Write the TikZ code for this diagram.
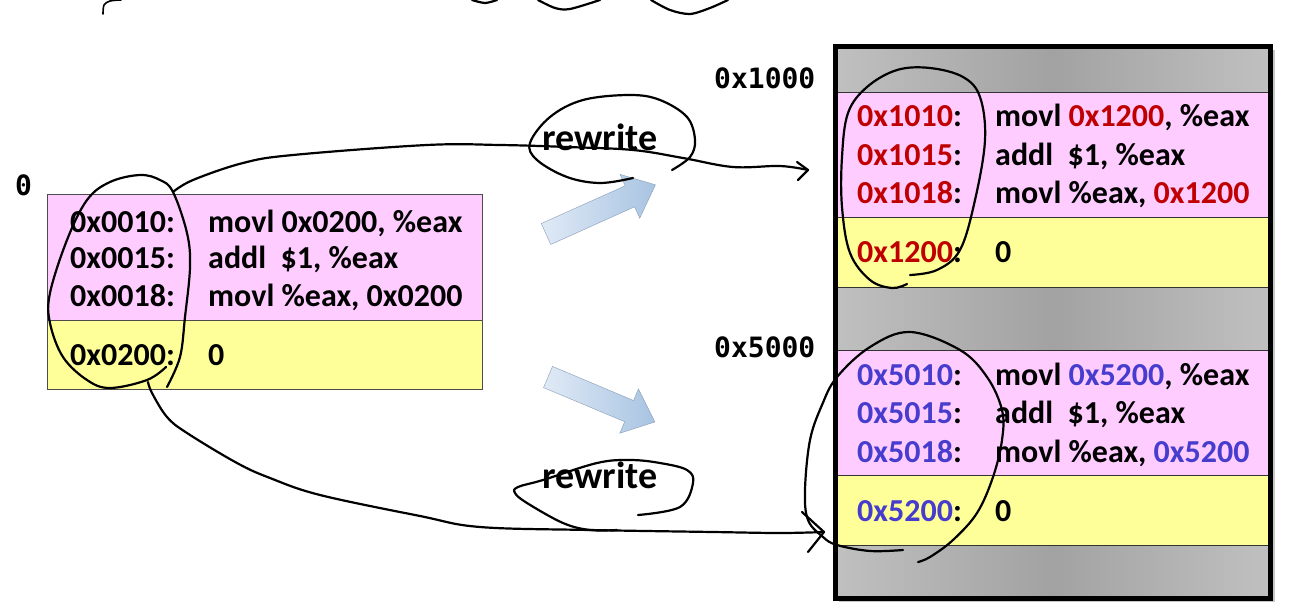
\documentclass[tikz,border=0pt]{standalone}
\usepackage{fontspec}
\setmainfont{Carlito}
\newfontfamily\monoff{DejaVu Sans Mono}
\definecolor{pinkbg}{HTML}{FFCCFF}
\definecolor{yellowbg}{HTML}{FFFF99}
\definecolor{addrred}{HTML}{C00000}
\definecolor{addrblue}{RGB}{70,60,205}
\definecolor{arrowlight}{RGB}{224,234,246}
\definecolor{arrowdark}{RGB}{168,196,226}
\definecolor{grayedge}{RGB}{192,192,192}
\definecolor{graymid}{RGB}{162,162,162}
\tikzset{
  code/.style={anchor=base west, inner sep=0pt, font=\bfseries\fontsize{32}{38}\selectfont},
  lbl/.style={anchor=base west, inner sep=0pt, font=\monoff\bfseries\fontsize{28}{32}\selectfont},
  rw/.style={anchor=base west, inner sep=0pt, font=\bfseries\fontsize{38}{44}\selectfont},
  ink/.style={line width=2.2pt, line cap=round, line join=round, black},
  band/.style={draw=black!80, line width=0.8pt},
  blockarrow/.style={draw=arrowdark!80!black, line width=0.4pt, left color=arrowlight, right color=arrowdark},
}
\newcommand{\R}[1]{\textcolor{addrred}{#1}}
\newcommand{\B}[1]{\textcolor{addrblue}{#1}}
\begin{document}
\begin{tikzpicture}[x=1pt,y=-1pt]
\useasboundingbox (0,0) rectangle (1298,605);

% ---------- left memory box ----------
\fill[pinkbg] (47,194) rectangle (482,320);
\fill[yellowbg] (47,320) rectangle (482,389);
\draw[black!70, line width=0.8pt] (47,194) rectangle (482,389);
\draw[black!70, line width=0.8pt] (47,320) -- (482,320);

\node[lbl] (zero) at (15,195) {0};
\node[code] (la1) at (70,232) {0x0010:};
\node[code] (la2) at (70,268) {0x0015:};
\node[code] (la3) at (70,306) {0x0018:};
\node[code] (la4) at (70,365) {0x0200:};
\node[code] (lc1) at (208,232) {movl 0x0200, \%eax};
\node[code] (lc2) at (208,268) {addl\ \ \$1, \%eax};
\node[code] (lc3) at (208,306) {movl \%eax, 0x0200};
\node[code] (lc4) at (208,365) {0};

% ---------- right memory box ----------
\fill[black!22] (839,50) rectangle (1275,602);
\shade[left color=grayedge, right color=grayedge, middle color=graymid] (835,46) rectangle (1270,598);
\fill[pinkbg] (835,92) rectangle (1270,217);
\fill[yellowbg] (835,217) rectangle (1270,287);
\fill[pinkbg] (835,350) rectangle (1270,475);
\fill[yellowbg] (835,475) rectangle (1270,545);
\foreach \yy in {92,217,287,350,475,545} \draw[band] (835,\yy) -- (1270,\yy);
\draw[black, line width=5pt] (835,46) rectangle (1270,598);

\node[lbl] (l1000) at (714,88) {0x1000};
\node[lbl] (l5000) at (714,357) {0x5000};

\node[code] (ra1) at (857,126) {\R{0x1010}:};
\node[code] (ra2) at (857,165) {\R{0x1015}:};
\node[code] (ra3) at (857,203) {\R{0x1018}:};
\node[code] (ra4) at (857,262) {\R{0x1200}:};
\node[code] (rc1) at (995,126) {movl \R{0x1200}, \%eax};
\node[code] (rc2) at (995,165) {addl\ \ \$1, \%eax};
\node[code] (rc3) at (995,203) {movl \%eax, \R{0x1200}};
\node[code] (rc4) at (995,262) {0};

\node[code] (ba1) at (857,385) {\B{0x5010}:};
\node[code] (ba2) at (857,423) {\B{0x5015}:};
\node[code] (ba3) at (857,462) {\B{0x5018}:};
\node[code] (ba4) at (857,521) {\B{0x5200}:};
\node[code] (bc1) at (995,385) {movl \B{0x5200}, \%eax};
\node[code] (bc2) at (995,423) {addl\ \ \$1, \%eax};
\node[code] (bc3) at (995,462) {movl \%eax, \B{0x5200}};
\node[code] (bc4) at (995,521) {0};

% ---------- blue block arrows ----------
\begin{scope}[shift={(546,234)}, rotate=24.2]
  \path[blockarrow] (0,-11.5) -- (92,-11.5) -- (92,-24) -- (120,0) -- (92,24) -- (92,11.5) -- (0,11.5) -- cycle;
\end{scope}
\begin{scope}[shift={(548,377)}, rotate=-22.8]
  \path[blockarrow] (0,-11.5) -- (88,-11.5) -- (88,-24) -- (116,0) -- (88,24) -- (88,11.5) -- (0,11.5) -- cycle;
\end{scope}

% ---------- rewrite labels ----------
\node[rw] (rwtop) at (542,150) {rewrite};
\node[rw] (rwbot) at (542,488) {rewrite};

% ---------- hand-drawn annotations ----------
\coordinate (topstart) at (173,192);
\coordinate (topend) at (808,170);
\coordinate (botstart) at (148,382);
\coordinate (botend) at (824,532);

% scribble remnants at the top edge
\draw[ink, line width=1.6pt] plot[smooth] coordinates {(103,14) (104,5) (110,1) (121,0)};
\draw[ink] plot[smooth] coordinates {(472,0) (485,3) (497,0)};
\draw[ink] plot[smooth] coordinates {(538,0) (555,8) (570,9) (600,0)};
\draw[ink] plot[smooth] coordinates {(651,0) (670,10) (690,14) (710,8) (728,0)};

% loop around left addresses
\draw[ink] plot[smooth, tension=0.6] coordinates {(167,387) (180,357) (185,317) (190,267) (187,233) (173,192) (160,180) (140,175) (110,182) (87,200) (67,240) (50,293) (50,323) (63,357) (87,380) (110,388) (147,380) (166,367)};

% upper curved arrow
\draw[ink] plot[smooth, tension=0.6] coordinates {(topstart) (193,180) (243,163) (293,155) (427,145) (500,145) (567,147) (633,150) (683,158) (733,167) (780,166) (topend)};
\draw[ink] (797,162) -- (topend) -- (798,180);

% lower curved arrow
\draw[ink] plot[smooth, tension=0.6] coordinates {(botstart) (152,393) (167,417) (187,433) (237,463) (270,478) (320,495) (420,516) (480,527) (590,530) (713,532) (780,533) (botend)};
\draw[ink] (802,512) -- (botend) -- (808,552);

% loop around top rewrite
\draw[ink] plot[smooth, tension=0.6] coordinates {(672,170) (690,157) (695,140) (687,117) (660,100) (630,95) (583,100) (550,117) (530,143) (537,160) (567,177) (600,183) (633,178)};

% loop around bottom rewrite
\draw[ink] plot[smooth, tension=0.6] coordinates {(638,515) (680,507) (693,483) (687,470) (660,463) (630,460) (597,463) (543,480) (518,487) (515,493) (527,503) (563,523) (590,530) (617,530)};

% loop around right-top addresses
\draw[ink] plot[smooth, tension=0.6] coordinates {(910,275) (937,270) (960,250) (975,200) (985,140) (980,97) (963,77) (930,68) (897,70) (867,87) (848,113) (842,157) (842,207) (850,253) (870,280) (892,288) (907,284)};

% loop around right-bottom addresses
\draw[ink] plot[smooth, tension=0.6] coordinates {(903,550) (870,551) (837,545) (823,537) (808,520) (805,490) (810,440) (822,405) (837,377) (870,347) (910,332) (960,350) (987,377) (1002,410) (1002,440) (993,477) (977,513) (953,540) (930,557) (918,562)};

\end{tikzpicture}
\end{document}
